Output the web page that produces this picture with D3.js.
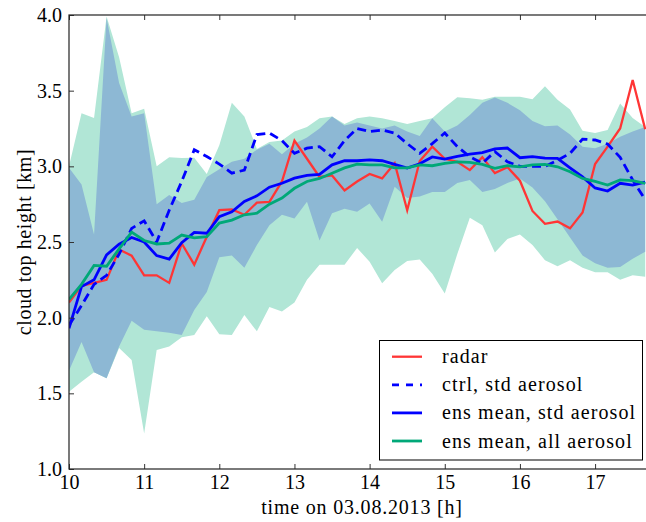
<!DOCTYPE html>
<html>
<head>
<meta charset="utf-8">
<script src="https://cdnjs.cloudflare.com/ajax/libs/d3/7.8.5/d3.min.js"></script>
<style>
  body { margin: 0; background: #fff; }
  text { font-family: "Liberation Serif", "Times New Roman", serif; fill: #000; }
</style>
</head>
<body>
<div id="chart"></div>
<script>
// clock times, every 10 minutes from 10:00 to 17:40
const clock = ["10:00","10:10","10:20","10:30","10:40","10:50","11:00","11:10","11:20","11:30","11:40","11:50",
  "12:00","12:10","12:20","12:30","12:40","12:50","13:00","13:10","13:20","13:30","13:40","13:50",
  "14:00","14:10","14:20","14:30","14:40","14:50","15:00","15:10","15:20","15:30","15:40","15:50",
  "16:00","16:10","16:20","16:30","16:40","16:50","17:00","17:10","17:20","17:30","17:40"];

const radar = [2.10,2.21,2.23,2.25,2.45,2.41,2.28,2.28,2.23,2.49,2.35,2.535,
  2.71,2.715,2.68,2.76,2.765,2.90,3.17,3.05,2.93,2.94,2.84,2.90,
  2.95,2.92,3.02,2.71,3.035,3.13,3.05,3.03,2.975,3.06,2.955,2.995,
  2.905,2.705,2.62,2.635,2.59,2.695,3.015,3.13,3.25,3.57,3.245];

const ctrlStd = [1.95,2.08,2.22,2.28,2.42,2.59,2.64,2.50,2.71,2.90,3.11,3.065,
  3.015,2.955,2.975,3.21,3.22,3.17,3.086,3.12,3.13,3.063,3.17,3.25,
  3.23,3.24,3.22,3.15,3.086,3.15,3.22,3.13,3.063,3.02,3.097,3.03,
  3.00,3.00,3.00,3.04,3.086,3.18,3.174,3.147,3.06,2.91,2.78];

const ensStd = [1.93,2.205,2.25,2.415,2.485,2.53,2.50,2.41,2.387,2.495,2.564,2.558,
  2.667,2.70,2.768,2.805,2.862,2.888,2.922,2.94,2.947,3.01,3.037,3.037,
  3.043,3.037,3.013,2.988,3.017,3.062,3.048,3.066,3.08,3.09,3.115,3.121,
  3.057,3.064,3.054,3.052,2.99,2.93,2.857,2.837,2.888,2.876,2.895];

const ensAll = [2.12,2.22,2.345,2.34,2.455,2.565,2.51,2.487,2.492,2.546,2.527,2.535,
  2.625,2.645,2.68,2.69,2.75,2.79,2.855,2.90,2.92,2.954,2.99,3.015,
  3.01,3.01,2.99,2.99,3.01,3.004,3.02,3.03,3.026,3.013,2.987,3.004,
  2.997,3.009,3.013,2.997,2.964,2.92,2.90,2.876,2.91,2.905,2.888];

// ensemble spread, std aerosol
const stdHi = [2.99,2.88,2.55,3.98,3.55,3.33,3.35,2.75,2.81,2.757,2.78,2.93,
  2.98,3.03,3.05,3.11,3.15,3.08,3.15,3.19,3.25,3.33,3.27,3.29,
  3.27,3.25,3.27,3.23,3.20,3.317,3.23,3.27,3.34,3.42,3.455,3.42,
  3.37,3.30,3.265,3.27,3.21,3.13,3.12,3.15,3.196,3.23,3.26];
const stdLo = [1.65,1.84,1.64,1.60,1.81,1.98,1.92,1.91,1.90,1.885,2.05,2.17,
  2.40,2.41,2.33,2.48,2.61,2.68,2.656,2.766,2.51,2.69,2.72,2.70,
  2.755,2.634,2.865,2.79,2.80,2.83,2.83,2.89,2.91,2.83,2.85,2.89,
  2.92,2.86,2.77,2.65,2.53,2.41,2.36,2.33,2.335,2.39,2.435];

// ensemble spread, all aerosol
const allHi = [3.00,3.35,3.32,3.99,3.72,3.35,3.38,3.00,3.06,3.055,3.057,2.95,
  3.14,3.42,3.33,3.115,3.16,3.17,3.23,3.26,3.317,3.33,3.28,3.317,
  3.33,3.317,3.30,3.28,3.30,3.317,3.39,3.456,3.45,3.44,3.46,3.46,
  3.46,3.443,3.53,3.44,3.375,3.235,3.22,3.24,3.416,3.32,3.26];
const allLo = [1.51,1.576,1.64,1.60,1.80,1.72,1.235,1.786,1.81,1.87,1.885,2.01,
  1.89,1.885,2.017,1.91,2.07,2.04,2.10,2.25,2.35,2.35,2.35,2.46,
  2.37,2.227,2.315,2.375,2.385,2.29,2.16,2.42,2.66,2.61,2.43,2.52,
  2.55,2.48,2.38,2.34,2.38,2.33,2.30,2.30,2.25,2.28,2.27];

const xTicks = [10, 11, 12, 13, 14, 15, 16, 17];
const yTicks = [1.0, 1.5, 2.0, 2.5, 3.0, 3.5, 4.0];

const legendLabels = ["radar", "ctrl, std aerosol", "ens mean, std aerosol", "ens mean, all aerosol"];

const hours = clock.map(c => { const p = c.split(":"); return +p[0] + (+p[1]) / 60; });

const W = 646, H = 522;
const margin = { top: 15, left: 69, bottom: 53 };
const plotRight = 647.7;

const svg = d3.select("#chart").append("svg")
    .attr("width", W).attr("height", H);

const x = d3.scaleLinear().domain([10, 17.7]).range([margin.left, plotRight]);
const y = d3.scaleLinear().domain([1, 4]).range([H - margin.bottom, margin.top]);

svg.append("clipPath").attr("id", "clip")
  .append("rect")
    .attr("x", margin.left).attr("y", margin.top)
    .attr("width", plotRight - margin.left).attr("height", y(1) - y(4));

const plot = svg.append("g").attr("clip-path", "url(#clip)");

// bands
const band = (hi, lo) => d3.area()
    .x((d, i) => x(hours[i]))
    .y0((d, i) => y(lo[i]))
    .y1((d, i) => y(hi[i]));

plot.append("path").datum(allHi)
    .attr("d", band(allHi, allLo))
    .attr("fill", "#b1e6d6");

plot.append("path").datum(stdHi)
    .attr("d", band(stdHi, stdLo))
    .attr("fill", "#8db8d4");

// lines
const line = d3.line().x((d, i) => x(hours[i])).y(d => y(d));

const series = [
  { values: radar,   color: "#ff3535", width: 2.3, dash: null },
  { values: ctrlStd, color: "#0000ff", width: 2.8, dash: "9,5" },
  { values: ensStd,  color: "#0000ff", width: 2.8, dash: null },
  { values: ensAll,  color: "#00a878", width: 2.8, dash: null }
];

series.forEach(s => {
  plot.append("path").datum(s.values)
      .attr("d", line)
      .attr("fill", "none")
      .attr("stroke", s.color)
      .attr("stroke-width", s.width)
      .attr("stroke-dasharray", s.dash)
      .attr("stroke-linejoin", "miter");
});

// axes
const xAxis = svg.append("g")
    .attr("transform", `translate(0,${y(1)})`)
    .call(d3.axisBottom(x).tickValues(xTicks).tickFormat(d3.format("d")).tickSize(-5).tickPadding(6));

const xTop = svg.append("g")
    .attr("transform", `translate(0,${y(4)})`)
    .call(d3.axisTop(x).tickValues(xTicks).tickFormat("").tickSize(-5));

const yAxis = svg.append("g")
    .attr("transform", `translate(${margin.left},0)`)
    .call(d3.axisLeft(y).tickValues(yTicks).tickFormat(d3.format(".1f")).tickSize(-5).tickPadding(7));

[xAxis, xTop, yAxis].forEach(g => {
  g.select(".domain").remove();
  g.selectAll(".tick line").attr("stroke", "#333").attr("stroke-width", 1);
  g.selectAll("text").attr("font-family", "Liberation Serif").attr("font-size", 20).attr("fill", "#000");
});

// frame
svg.append("rect")
    .attr("x", margin.left).attr("y", margin.top)
    .attr("width", plotRight - margin.left).attr("height", y(1) - y(4))
    .attr("fill", "none").attr("stroke", "#222").attr("stroke-width", 1.2);

// axis labels
svg.append("text")
    .attr("x", 362).attr("y", 514)
    .attr("text-anchor", "middle")
    .attr("font-size", 20)
    .attr("letter-spacing", 0.8)
    .text("time on 03.08.2013 [h]");

svg.append("text")
    .attr("transform", "translate(31,242) rotate(-90)")
    .attr("text-anchor", "middle")
    .attr("font-size", 20)
    .attr("letter-spacing", 0.6)
    .text("cloud top height [km]");

// legend
const legend = svg.append("g");
legend.append("rect")
    .attr("x", 379.5).attr("y", 340.5)
    .attr("width", 263).attr("height", 119.5)
    .attr("fill", "#fff").attr("stroke", "#000").attr("stroke-width", 1);

const rowY = d3.scaleLinear().domain([0, 3]).range([356.7, 441]);

legendLabels.forEach((lab, i) => {
  const s = series[i];
  legend.append("line")
      .attr("x1", 392).attr("x2", 422)
      .attr("y1", rowY(i)).attr("y2", rowY(i))
      .attr("stroke", s.color)
      .attr("stroke-width", s.width)
      .attr("stroke-dasharray", s.dash ? "7,7" : null);
  legend.append("text")
      .attr("x", 442).attr("y", rowY(i) + 6.5)
      .attr("font-size", 20)
      .attr("letter-spacing", 1.1)
      .text(lab);
});
</script>
</body>
</html>
